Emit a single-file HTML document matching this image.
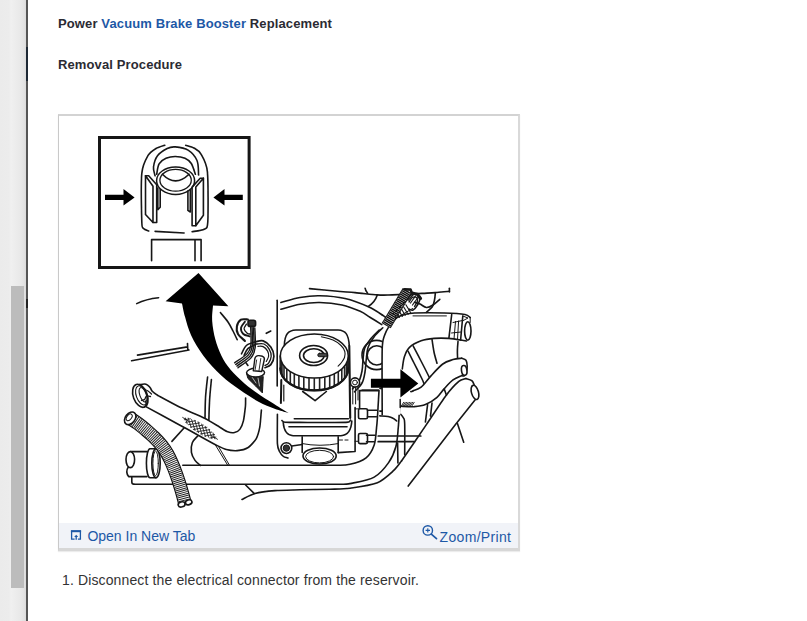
<!DOCTYPE html>
<html><head><meta charset="utf-8">
<style>
html,body{margin:0;padding:0;background:#fff;}
body{width:807px;height:621px;position:relative;overflow:hidden;font-family:"Liberation Sans",sans-serif;color:#2b2b33;}
#strip{position:absolute;left:0;top:0;width:26px;height:621px;background:linear-gradient(to right,#ebebeb 0,#ececec 9px,#f0f0f0 11px,#e9e9e9 20px,#e0e0e0 25px,#d8d8d8 26px);}
#thumb{position:absolute;left:11px;top:286px;width:13px;height:302px;background:#bcbcbc;}
#edge{position:absolute;left:26px;top:0;width:2px;height:621px;background:#555;}
.t{position:absolute;white-space:nowrap;font-weight:bold;font-size:13px;line-height:20px;letter-spacing:0.12px;}
.t a{color:#1d58a6;text-decoration:none;}
#frame{position:absolute;left:58px;top:114px;width:459px;height:432px;border-style:solid;border-color:#d3d3d3 #d9d9d9 #d7d7d7 #c9c9c9;border-width:2px 2px 3px 1px;box-shadow:0 1px 1px #ececec;background:#fff;}
#foot{position:absolute;left:0;top:407px;width:459px;height:25px;background:#f1f3f8;}
.f{position:absolute;white-space:nowrap;font-size:14px;line-height:20px;color:#1d58a6;}
#cap{position:absolute;left:62px;top:569.7px;font-size:14px;line-height:20px;white-space:nowrap;color:#333;letter-spacing:0.13px;}
</style></head><body>
<div id="strip"></div><div id="thumb"></div><div id="edge"></div><div style="position:absolute;left:26px;top:47px;width:2px;height:34px;background:#1d2834"></div><div style="position:absolute;left:26px;top:299px;width:2px;height:9px;background:#222"></div>
<div class="t" id="t1" style="left:58px;top:13.5px;">Power <a>Vacuum Brake Booster</a> Replacement</div>
<div class="t" id="t2" style="left:58px;top:54.8px;">Removal Procedure</div>
<div id="frame">
<svg id="art" width="459" height="407" viewBox="59 116 459 407" style="position:absolute;left:0;top:0"><defs><filter id="sb" x="59" y="116" width="459" height="407" filterUnits="userSpaceOnUse"><feGaussianBlur stdDeviation="0.38"/></filter></defs><g filter="url(#sb)" fill="none" stroke="#161616" stroke-width="1.6" stroke-linecap="round" stroke-linejoin="round">
<rect x="99.5" y="137.5" width="149.6" height="130" stroke-width="3" stroke-linejoin="miter"/>
<polygon points="105,194.7 123.5,194.7 123.5,189 134.6,197.4 123.5,205.6 123.5,200.1 105,200.1" fill="#000" stroke="none"/>
<polygon points="242.8,194.7 224.5,194.7 224.5,189 213.4,197.4 224.5,205.6 224.5,200.1 242.8,200.1" fill="#000" stroke="none"/>
<path d="M148.7,231.0 C148.0,230.7 144.4,229.7 143.5,228.5 C142.6,227.3 142.0,229.3 141.8,222.0 C141.6,214.7 141.0,182.2 141.8,173.4 C142.6,164.6 146.0,159.0 147.9,155.7 C149.8,152.4 153.7,149.9 156.0,148.5 C158.3,147.1 163.6,145.6 164.8,145.2" />
<path d="M185.7,145.2 C186.8,145.6 192.0,146.8 194.0,148.0 C196.0,149.2 199.2,150.9 201.0,154.1 C202.8,157.3 206.5,162.8 207.4,171.8 C208.3,180.8 208.2,214.0 207.8,221.7 C207.4,229.4 206.3,228.0 204.2,229.3 C202.1,230.6 193.7,231.4 192.1,231.7" />
<path d="M155.1,231.4 L184.1,233.0" />
<path d="M155.1,175.8 C154.8,174.3 153.1,170.3 153.5,167.0 C153.9,163.7 155.2,158.8 157.5,155.7 C159.8,152.6 164.2,150.0 167.2,148.5 C170.1,147.0 171.7,146.6 175.2,146.9 C178.7,147.2 184.5,147.8 188.1,150.1 C191.7,152.4 195.2,156.3 197.0,160.5 C198.8,164.7 198.3,172.6 198.6,175.0" />
<path d="M156.7,174.2 C157.1,172.5 157.5,166.5 159.1,163.8 C160.7,161.2 163.3,159.5 166.0,158.3 C168.7,157.1 172.0,156.5 175.2,156.5 C178.4,156.5 182.3,157.1 185.0,158.3 C187.7,159.5 189.6,160.8 191.3,163.5 C193.0,166.2 194.7,172.4 195.4,174.2" />
<ellipse cx="175.6" cy="180.7" rx="19" ry="13.7" stroke-width="1.5"/>
<ellipse cx="175.6" cy="180.3" rx="15.7" ry="10.9" stroke-width="1.3"/>
<path d="M162.4,174.2 Q175.5,187.4 189,174.2" />
<path d="M145.5,175.8 L145.5,214.5 L153.0,222.5 L153.0,186.3 Z" fill="#fff"/>
<path d="M145.5,175.8 L148.7,175.8 L156.7,184.7 L156.7,222.5 L153.0,222.5" />
<path d="M157.8,188.0 L157.8,209.6 L160.2,207.2 L160.2,189.5" />
<path d="M203.4,178.2 L203.4,215.3 L195.8,225.7 L195.8,187.1 Z" fill="#fff"/>
<path d="M203.4,178.2 L200.2,178.2 L192.1,187.1 L192.1,225.7 L195.8,225.7" />
<path d="M190.3,189.5 L190.3,212.0 L187.9,210.4 L187.9,191.1" />
<path d="M151.6,260.8 L151.6,239.6 L201.1,239.6 L201.1,260.8 M195,239.6 L195,260.8" />
<path d="M136.7,303.6 Q146,299 158.6,297.7" />
<path d="M131.6,360.8 L189.0,350.0 M137.5,355.1 L187.5,346.9 M187.5,343.5 L187.8,350.0" />
<path d="M220.4,312.6 C221.7,314.2 225.9,318.9 228.0,322.0 C230.1,325.1 231.5,328.1 233.0,331.0 C234.5,333.9 236.5,338.2 237.2,339.7" />
<path d="M277.2,300.3 L277.2,386.0" />
<path d="M280.9,302.5 C284.1,301.7 293.6,298.6 300.0,297.5 C306.4,296.4 312.1,295.6 319.6,295.8 C327.1,296.0 336.9,296.7 345.0,298.5 C353.1,300.3 362.0,303.9 368.4,306.8 C374.8,309.7 380.2,313.7 383.3,315.7 C386.4,317.7 386.4,318.4 387.0,319.0" />
<path d="M280.9,309.3 C284.1,308.4 293.6,305.3 300.0,304.2 C306.4,303.1 312.6,302.4 319.6,302.5 C326.6,302.6 335.2,303.5 342.0,305.0 C348.8,306.5 355.6,309.3 360.2,311.3 C364.8,313.3 366.3,315.0 369.9,317.2 C373.5,319.4 379.8,323.4 381.8,324.6" />
<path d="M309.5,288.6 C313.8,289.0 327.4,290.3 335.0,291.0 C342.6,291.7 347.9,292.0 355.0,292.6 C362.1,293.2 371.1,294.5 377.3,294.9 C383.5,295.3 384.8,295.1 392.2,294.9 C399.6,294.6 414.7,293.8 421.9,293.4 C429.1,293.0 430.7,293.0 435.3,292.6 C439.9,292.2 447.0,291.4 449.4,291.2" />
<path d="M449.4,288.2 L449.4,292.0" />
<path d="M365.1,288.2 Q365.5,291 367.6,293.2" />
<path d="M377.3,294.9 Q375,302 368.4,306.3" />
<path d="M284.3,346 C284.6,334 288,330.4 296,330 L338,330 C345.5,330.4 348.6,334 349.3,346" />
<path d="M349.3,346 L350.2,418" stroke-width="2.1"/>
<path d="M281.3,380.0 L280.9,403.0" stroke-width="2"/><path d="M283.8,385.0 L283.8,401.0" stroke-width="1.2"/>
<path d="M280.3,356.0 L280.3,368.4 A34,22 0 0 0 348.3,368.4 L348.3,356.0 Z" fill="#fff"/>
<path d="M280.7,360.2 L280.7,371.0 M282.0,363.6 L282.0,374.4 M284.0,366.8 L284.0,377.6 M286.8,369.7 L286.8,380.5 M290.3,372.4 L290.3,383.2 M294.3,374.6 L294.3,385.4 M298.9,376.4 L298.9,387.2 M303.8,377.7 L303.8,388.5 M309.0,378.5 L309.0,389.3 M314.3,378.8 L314.3,389.6 M319.6,378.5 L319.6,389.3 M324.8,377.7 L324.8,388.5 M329.7,376.4 L329.7,387.2 M334.3,374.6 L334.3,385.4 M338.3,372.4 L338.3,383.2 M341.8,369.7 L341.8,380.5 M344.6,366.8 L344.6,377.6 M346.6,363.6 L346.6,374.4 M347.9,360.2 L347.9,371.0" stroke-width="1.6" stroke="#222"/>
<path d="M280.3,368.4 A34,22 0 0 0 348.3,368.4" stroke-width="2.2"/>
<ellipse cx="314.3" cy="356" rx="34" ry="22" fill="#fff"/>
<path d="M321.4,336.8 C323.3,337.3 329.7,338.6 333.0,340.0 C336.3,341.4 339.0,343.6 341.0,345.5 C343.0,347.4 344.2,349.5 344.8,351.5 C345.4,353.5 345.1,355.7 344.5,357.5 C343.9,359.3 342.6,361.1 341.5,362.5 C340.4,363.9 338.7,365.6 338.1,366.2" stroke-width="1.1"/>
<ellipse cx="313.6" cy="355.5" rx="14" ry="10"/>
<ellipse cx="313.8" cy="355.6" rx="10.3" ry="6.9"/>
<rect x="317.8" y="353.3" width="9.4" height="3.4" rx="1.6" fill="#444" stroke-width="1"/>
<path d="M302.7,391.5 L315.1,400.6 L326.4,391.5" />
<path d="M294.3,418.8 L348.4,418.8" />
<path d="M281.9,420.5 C282.2,420.7 283.2,422.0 285.0,422.2 C286.8,422.4 293.9,422.4 300.0,422.4 C306.1,422.4 340.9,422.6 346.0,422.4 C351.1,422.2 350.1,420.2 350.6,420.0" />
<path d="M289.0,426.7 L347.0,426.7" />
<path d="M283.2,422.5 C283.8,430 286.5,435.2 293,435.7 L341,435.7 C348,435.2 351.3,430 351.8,421" />
<path d="M277.4,414.3 C277.4,417.7 277.2,439.3 277.4,443.6 C277.6,447.9 278.8,450.0 279.5,451.5 C280.2,453.0 282.5,455.7 283.5,456.5 C284.5,457.3 287.5,457.8 288.0,458.0" />
<circle cx="286.4" cy="448.1" r="5.4" fill="#fff"/><circle cx="286.4" cy="448.1" r="3.2" fill="#333" stroke-width="1"/>
<path d="M291.8,446.0 L302.2,444.5" />
<path d="M302.2,436.8 L302.2,452.5 M338.2,436.8 L338.2,452.6" />
<path d="M302.2,443.6 Q320,447 338.2,443.6" stroke-width="1"/>
<ellipse cx="319.6" cy="456" rx="16.6" ry="8"/>
<ellipse cx="319.6" cy="456.6" rx="14" ry="6.3" stroke-width="1"/>
<path d="M338.2,452.6 L355.1,451.5 L355.1,407.5" />
<path d="M338.5,440.0 L342.5,440.0 M345.0,440.0 L348.0,440.0" stroke-width="1"/>
<path d="M359.6,408.0 L359.6,390.6 L379.0,390.6 L377.6,415.0 C377.4,417.0 377.2,422.2 376.6,427.2 C376.0,432.2 375.9,439.8 374.2,444.9 C372.4,450.0 370.1,454.6 366.1,457.8 C362.1,461.0 355.2,463.1 350.0,464.3 C344.8,465.5 343.3,465.1 335.0,465.2 C326.7,465.3 305.8,465.2 300.0,465.2 L182.8,465.2" />
<rect x="358.5" y="408.7" width="9" height="10.1" rx="1.5" fill="#fff"/>
<rect x="358.5" y="433.5" width="9" height="10.1" rx="1.5" fill="#fff"/>
<path d="M367.5,410.3 L376.8,410.3 M367.5,416.7 L376.4,416.7" />
<path d="M379.8,411.1 C381.2,411.1 385.4,411.0 388.0,411.2 C390.6,411.4 393.9,412.0 395.1,412.2 M379.8,415.9 C381.2,416.0 385.8,416.1 388.0,416.5 C390.2,416.9 391.6,417.4 393.0,418.2 C394.4,418.9 396.1,420.5 396.7,421.0" />
<path d="M366.5,435.3 L374.8,435.3 M366.5,441.7 L374.2,441.7" />
<path d="M378.2,436.0 L420.8,436.0 M378.2,441.7 L414.4,441.7" stroke-width="1.7"/>
<path d="M355.1,408.9 L358.5,408.9 M355.1,441.3 L358.5,441.3" stroke-width="1"/>
<path d="M134,484.2 L340,484.2 C341.7,484.1 344.3,484.8 350.0,483.6 C355.7,482.4 367.8,480.6 374.2,477.1 C380.6,473.6 385.0,467.7 388.6,462.6 C392.2,457.5 394.3,452.4 395.9,446.5 C397.5,440.6 397.7,433.6 398.3,427.2 C398.9,420.8 399.3,412.6 399.6,408.0 C399.9,403.4 399.8,401.2 399.9,399.8" />
<path d="M242.0,499.5 C243.7,498.7 250.6,494.7 255.0,493.5 C259.4,492.3 269.0,491.1 275.0,490.6 C281.0,490.1 292.7,490.0 300.0,489.8 C307.3,489.6 323.3,489.4 330.0,489.2 C336.7,489.0 343.7,489.1 350.0,488.2 C356.3,487.3 371.6,485.0 377.4,482.7 C383.2,480.4 390.3,473.6 393.5,470.7 C396.7,467.8 400.4,462.3 401.5,461.0" />
<path d="M400.7,414.3 C401.2,414.9 402.8,416.4 403.5,418.0 C404.2,419.6 404.5,417.9 404.7,424.0 C404.9,430.1 404.7,449.5 404.7,454.6" />
<path d="M397.6,443.0 L397.9,463.0" />
<path d="M245.6,485.0 L254.1,493.4" />
<path d="M400.2,388.4 L400.1,400.0" />
<path d="M380.0,388.4 L400.2,388.4" />
<circle cx="376.6" cy="355" r="14.6"/>
<circle cx="376.8" cy="355.4" r="9.6"/>
<path d="M408.0,351.0 C409.0,353.0 411.7,358.4 414.0,363.0 C416.3,367.6 420.1,375.1 421.8,378.5 C423.5,381.9 423.6,382.8 424.0,383.6" />
<path d="M413.1,345.9 C414.4,348.4 418.3,355.8 421.0,361.0 C423.7,366.2 427.8,374.3 429.1,377.0" />
<path d="M432.0,339.3 C432.3,341.4 433.2,348.0 434.0,352.0 C434.8,356.0 436.5,361.4 437.0,363.3" />
<path d="M458.0,341.5 C457.9,342.9 457.5,347.1 457.4,350.0 C457.3,352.9 457.6,357.4 457.6,358.9" />
<path d="M382.2,414.7 C382.2,406.0 381.9,359.9 382.2,349.4 C382.5,338.9 383.5,338.9 384.4,335.8 C385.3,332.7 387.6,328.5 389.2,326.1 C390.8,323.7 394.4,319.5 396.6,317.9 C398.8,316.3 403.2,314.9 405.6,314.2 C408.0,313.5 409.4,313.2 414.5,313.0 C419.6,312.8 437.5,312.8 444.2,313.0 C450.9,313.2 461.5,313.9 465.0,314.5 C468.5,315.1 469.5,317.1 470.2,317.5 L470.2,338 L466.5,341 C463.5,340.6 454.0,338.8 448.6,338.4 C443.2,338.0 438.7,338.0 434.1,338.4 C429.5,338.8 425.2,339.3 421.1,340.8 C417.0,342.3 412.3,344.7 409.5,347.3 C406.7,349.9 405.6,353.1 404.4,356.7 C403.2,360.3 402.6,366.9 402.3,369.0 L400.2,414.7 Z" fill="#fff" stroke="none"/>
<path d="M382.2,414.7 C382.2,406.0 381.9,359.9 382.2,349.4 C382.5,338.9 383.5,338.9 384.4,335.8 C385.3,332.7 387.6,328.5 389.2,326.1 C390.8,323.7 394.4,319.5 396.6,317.9 C398.8,316.3 403.2,314.9 405.6,314.2 C408.0,313.5 409.4,313.2 414.5,313.0 C419.6,312.8 437.5,312.8 444.2,313.0 C450.9,313.2 461.5,313.9 465.0,314.5 C468.5,315.1 469.5,317.1 470.2,317.5" />
<path d="M466.5,341.0 C463.5,340.6 454.0,338.8 448.6,338.4 C443.2,338.0 438.7,338.0 434.1,338.4 C429.5,338.8 425.2,339.3 421.1,340.8 C417.0,342.3 412.3,344.7 409.5,347.3 C406.7,349.9 405.6,353.1 404.4,356.7 C403.2,360.3 402.6,366.9 402.3,369.0" />
<path d="M413.0,315.9 L446.4,315.9" stroke-width="1"/>
<path d="M470.2,317.5 L470.2,322.5" stroke-width="1"/>
<ellipse cx="467.8" cy="331" rx="3.2" ry="9.2" fill="#fff"/>
<path d="M451.7,314.5 L448.9,338.2 M462.8,316.0 L460.6,340.0" />
<path d="M453.0,322.5 L462.5,320.5 M451.5,333.0 L461.0,332.0 M455.5,321.5 L454.0,339.0 M458.6,321.0 L457.5,339.5" stroke-width="1"/>
<path d="M462.8,316.0 L468.0,318.0 L462.4,321.0" stroke-width="1"/>
<path d="M407.2,290.6 L386.2,325.6" stroke="#111" stroke-width="10.4" stroke-linecap="butt"/>
<path d="M407.2,290.6 L386.2,325.6" stroke="#fff" stroke-width="8.4" stroke-linecap="butt"/>
<path d="M407.2,290.6 L386.2,325.6" stroke="#111" stroke-width="8.6" stroke-dasharray="1.45 0.45" stroke-linecap="butt"/>
<path d="M404.5,289.3 L410.6,289.6 L411.6,292.6" stroke-width="2.6"/>
<path d="M412.6,308.5 L395.3,318.6 M406.0,301.0 L393.0,314.0" stroke-width="1"/>
<path d="M395.2,316.2 L396.5,318.5 M397.3,313.9 L399.4,317.4 M399.5,311.6 L402.3,316.4 M401.6,309.3 L405.2,315.3 M403.7,307.0 L408.1,314.3 M405.9,304.7 L411.0,313.2" stroke-width="1.1"/>
<path d="M407.0,300.0 C407.7,299.2 409.3,295.9 411.0,295.0 C412.7,294.1 415.5,294.0 417.0,294.5 C418.5,295.0 419.9,296.2 420.0,298.0 C420.1,299.8 418.7,303.0 417.5,305.0 C416.3,307.0 414.4,309.3 413.0,310.0 C411.6,310.7 409.7,309.2 409.0,309.0" stroke-width="1.5"/>
<path d="M409.0,302.0 C409.6,301.2 411.2,298.2 412.5,297.5 C413.8,296.8 415.7,296.9 416.5,297.5 C417.3,298.1 417.8,299.5 417.5,301.0 C417.2,302.5 415.0,305.6 414.5,306.5" stroke-width="1.3"/>
<path d="M410.5,303.0 L415.5,296.0 M412.5,305.0 L418.0,297.5 M408.5,300.0 L413.5,294.5" stroke-width="1.2"/>
<path d="M413.0,293.2 L417.5,294.2 M417.5,294.5 L420.5,298.5" stroke-width="3.2"/>
<path d="M414.5,302.3 C415.4,302.6 418.0,303.1 420.0,304.0 C422.0,304.9 424.2,307.3 426.4,307.5 C428.6,307.7 430.8,306.4 433.0,305.0 C435.2,303.6 438.7,300.2 439.8,299.3" />
<path d="M435.3,293.4 C435.2,294.5 435.0,297.8 434.5,300.0 C434.0,302.2 433.7,304.8 432.3,306.8 C430.9,308.9 427.4,311.4 426.4,312.3" />
<path d="M382.8,327.8 C381.4,329.2 376.7,333.3 374.3,336.5 C371.9,339.7 369.6,343.1 368.2,347.0 C366.8,350.9 366.7,355.8 366.2,360.0 C365.7,364.2 365.7,368.2 365.0,372.0 C364.3,375.8 363.8,379.7 362.0,383.0 C360.2,386.3 355.8,390.3 354.5,391.8" />
<path d="M379.2,330.0 C377.8,331.4 373.4,335.4 371.0,338.5 C368.6,341.6 365.9,344.9 364.6,348.5 C363.3,352.1 363.4,356.2 363.0,360.0 C362.6,363.8 362.7,367.5 362.0,371.0 C361.3,374.5 360.6,378.0 359.0,381.0 C357.4,384.0 353.6,387.7 352.5,389.0" />
<circle cx="355" cy="382.5" r="4.6" fill="#fff"/><circle cx="355" cy="382.5" r="2.4" stroke-width="1"/>
<path d="M352.8,387.0 L352.8,404.0 M355.6,387.4 L355.6,404.0 M358.0,388.0 L358.0,400.0" stroke-width="1"/>
<path d="M361.9,389.9 L378.8,389.9" stroke-width="1"/>
<path d="M470.0,379.0 L402.5,461.0 L408.2,486.1 L476.8,398.5 Z" fill="#fff" stroke="none"/>
<path d="M466.0,378.5 C465.3,378.8 460.8,379.7 458.8,381.4 C456.8,383.1 449.0,391.5 445.7,395.9 C442.4,400.2 430.6,418.4 426.2,424.9 C421.8,431.4 404.0,457.4 401.5,461.0" />
<path d="M475.4,399.5 L455.1,424.9 L408.2,486.1" />
<path d="M466.0,378.5 C467.0,378.9 470.4,379.5 471.8,380.7 C473.2,381.9 474.1,384.7 474.5,385.5" />
<ellipse cx="475" cy="392.4" rx="3.5" ry="7.3" transform="rotate(-16 475 392.4)" fill="#fff"/>
<path d="M457.4,423.4 L463.7,442.2" />
<path d="M427.6,404.6 L425.4,422.0 M432.0,403.1 L430.5,416.2" />
<path d="M413.1,390.8 C414.4,390.2 418.1,389.7 421.1,387.2 C424.1,384.7 427.6,379.5 431.2,375.6 C434.8,371.7 439.2,366.7 442.8,364.0 C446.4,361.3 449.9,360.6 453.0,359.6 C456.1,358.6 460.2,358.4 461.7,358.2 L466.7,362 L466.7,371 L461.7,375.6 C460.2,376.3 455.9,377.7 453.0,379.9 C450.1,382.1 447.0,385.7 444.3,388.6 C441.6,391.5 440.1,394.6 437.0,397.3 C433.9,400.0 429.3,403.0 425.4,404.6 C421.5,406.2 417.9,406.4 413.8,406.7 C409.7,407.0 403.0,406.3 400.8,406.2 L400.8,397.5 L413.1,390.8 Z" fill="#fff" stroke="none"/>
<path d="M413.1,390.8 C414.4,390.2 418.1,389.7 421.1,387.2 C424.1,384.7 427.6,379.5 431.2,375.6 C434.8,371.7 439.2,366.7 442.8,364.0 C446.4,361.3 449.9,360.6 453.0,359.6 C456.1,358.6 460.2,358.4 461.7,358.2" />
<path d="M400.8,406.2 C403.0,406.3 409.7,407.0 413.8,406.7 C417.9,406.4 421.5,406.2 425.4,404.6 C429.3,403.0 433.9,400.0 437.0,397.3 C440.1,394.6 441.6,391.5 444.3,388.6 C447.0,385.7 450.1,382.1 453.0,379.9 C455.9,377.7 460.2,376.3 461.7,375.6" />
<path d="M461.7,358.2 C462.4,358.5 465.1,358.9 466.0,360.2 C466.9,361.5 467.1,364.0 467.2,366.0 C467.3,368.0 466.9,370.4 466.4,372.0 C465.9,373.6 465.0,375.2 464.2,375.8 C463.4,376.4 462.1,375.6 461.7,375.6" />
<ellipse cx="464.2" cy="370.4" rx="2.7" ry="4.9" transform="rotate(-8 464.2 370.4)" fill="#fff"/>
<path d="M444.3,389.3 L446.4,395.1" />
<path d="M410.8,391.6 Q412,391.6 413.1,390.8" />
<path d="M401.5,405.8 L403.7,402.3 M403.0,405.8 L405.2,402.3 M404.5,405.8 L406.7,402.3 M406.0,405.8 L408.2,402.3 M407.5,405.8 L409.7,402.3 M409.0,405.8 L411.2,402.3 M410.5,405.8 L412.7,402.3 M412.0,405.8 L414.2,402.3" stroke-width="0.9"/>
<path d="M400.2,399.5 L400.2,407.5" stroke-width="1.5"/>
<polygon points="370.9,378.7 400.4,378.7 400.4,369.2 418.3,383.4 400.4,397.4 400.4,387.8 370.9,387.8" fill="#000" stroke="none"/>
<path d="M207.6,377.0 C207.2,380.5 205.9,390.9 205.5,398.0 C205.1,405.1 205.1,415.9 205.0,419.5 M211.4,379.6 C211.1,383.0 210.0,392.9 209.6,400.0 C209.2,407.1 208.9,418.3 208.8,422.0" />
<path d="M184.0,428.0 L171.9,441.4" />
<path d="M197.7,436.0 C196.8,437.1 193.4,440.0 192.3,442.7 C191.2,445.4 191.0,449.4 191.4,452.3 C191.8,455.2 193.5,458.2 195.0,460.4 C196.5,462.6 199.5,464.6 200.4,465.4" />
<path d="M215.4,445.0 L227.5,464.9 M217.0,444.0 L229.3,464.9" stroke-width="1"/>
<path d="M130.3,451.6 L147,451.6 M128.2,467.2 Q125.2,472 128.6,476.6 L147,476.6 M131.8,476.8 L131.8,482 Q131.8,484.2 134,484.2" />
<ellipse cx="130.3" cy="459.6" rx="4.3" ry="8" fill="#fff"/>
<path d="M150,448.8 A3.6,14.5 0 0 0 150,477.8 L156,477.8 L156,448.8 Z" fill="#fff"/>
<ellipse cx="156" cy="463.3" rx="4.2" ry="14.5" fill="#fff"/>
<ellipse cx="155.6" cy="463.3" rx="2.7" ry="12.3" stroke-width="1"/>
<path d="M157.7,395.4 C160.3,396.8 174.5,404.6 180.0,407.3 C185.5,410.0 199.9,415.9 204.5,418.2 C209.1,420.5 216.8,425.4 219.5,427.0 C222.2,428.6 225.9,431.2 227.7,431.8 C229.4,432.4 233.1,432.8 234.5,432.5 C235.9,432.2 239.0,430.5 240.0,429.1 C241.0,427.7 242.8,423.5 243.4,420.9 C244.0,418.3 245.1,409.3 245.4,406.6 C245.7,403.9 245.6,399.0 245.6,398.0 L261.4,410 C261.3,410.6 261.4,410.4 261.1,413.4 C260.8,416.3 260.5,423.5 259.7,427.7 C258.9,431.9 258.2,435.3 256.3,438.6 C254.4,441.9 251.4,445.5 248.2,447.5 C245.0,449.5 241.0,450.3 237.3,450.6 C233.7,450.9 229.7,450.4 226.3,449.5 C222.9,448.6 221.3,447.7 216.8,445.4 C212.3,443.1 205.2,439.1 199.1,435.7 C193.0,432.3 188.9,430.1 180.0,425.2 C171.1,420.3 151.2,409.5 145.4,406.4 Z" fill="#fff" stroke="none"/>
<path d="M157.7,395.4 C160.3,396.8 174.5,404.6 180.0,407.3 C185.5,410.0 199.9,415.9 204.5,418.2 C209.1,420.5 216.8,425.4 219.5,427.0 C222.2,428.6 225.9,431.2 227.7,431.8 C229.4,432.4 233.1,432.8 234.5,432.5 C235.9,432.2 239.0,430.5 240.0,429.1 C241.0,427.7 242.8,423.5 243.4,420.9 C244.0,418.3 245.1,409.3 245.4,406.6 C245.7,403.9 245.6,399.0 245.6,398.0" />
<path d="M145.4,406.4 C149.4,408.6 173.7,421.8 180.0,425.2 C186.3,428.6 194.8,433.3 199.1,435.7 C203.4,438.1 213.6,443.8 216.8,445.4 C220.0,447.0 223.9,448.9 226.3,449.5 C228.7,450.1 234.7,450.8 237.3,450.6 C239.9,450.4 246.0,448.9 248.2,447.5 C250.4,446.1 255.0,440.9 256.3,438.6 C257.6,436.3 259.1,430.6 259.7,427.7 C260.3,424.8 260.9,415.5 261.1,413.4 C261.3,411.3 261.4,410.4 261.4,410.0" />
<path d="M185.4,418.0 L187.2,423.9 M188.3,418.1 L191.2,427.6 M191.6,419.6 L195.0,430.5 M194.8,420.3 L198.5,432.7 M198.1,421.8 L202.1,435.0 M201.7,424.1 L205.4,436.5 M205.2,426.3 L208.6,437.2 M209.0,429.2 L211.9,438.7 M213.0,432.9 L214.8,438.8 M190.4,418.8 L184.3,419.7 M195.4,420.8 L185.7,422.3 M199.7,422.9 L188.5,424.7 M203.3,425.1 L190.5,427.1 M206.9,427.3 L193.3,429.5 M209.7,429.7 L196.9,431.7 M211.7,432.1 L200.5,433.9 M214.5,434.5 L204.8,436.0 M215.9,437.1 L209.8,438.0" stroke-width="0.9" stroke="#222"/>
<path d="M182.7,417.5 L188.7,421.2 M217.5,439.3 L211.5,435.6" stroke-width="0.9"/>
<g transform="rotate(-20 140.3 395.8)"><ellipse cx="140.3" cy="395.8" rx="7" ry="12" fill="#fff" stroke-width="1.6"/><ellipse cx="141.6" cy="395.8" rx="5.2" ry="10" stroke-width="1.1"/><ellipse cx="143.2" cy="395.8" rx="3.2" ry="7.6" stroke-width="1.1"/></g>
<path d="M139.5,384.6 C140.6,384.5 144.2,383.7 146.0,384.2 C147.8,384.7 148.9,386.3 150.0,387.5 C151.1,388.7 151.2,390.2 152.5,391.5 C153.8,392.8 156.8,394.8 157.7,395.4" stroke-width="1.6"/>
<path d="M144.0,389.0 C144.7,389.3 146.8,390.2 148.0,391.0 C149.2,391.8 150.9,393.5 151.5,394.0 M141.5,400.5 C142.0,400.3 143.7,400.2 144.5,399.5 C145.3,398.8 145.5,396.5 146.5,396.0 C147.5,395.5 149.8,396.4 150.5,396.5" stroke-width="1.3"/>
<path d="M144.0,407.4 C144.4,406.9 146.1,405.6 146.3,404.5 C146.5,403.4 145.6,401.6 145.4,401.0" stroke-width="1.3"/>
<path d="M130.3,418.4 C131.6,419.3 135.5,421.7 138.0,423.6 C140.5,425.5 142.8,427.3 145.5,429.6 C148.2,431.9 151.3,434.5 154.0,437.2 C156.7,439.9 159.5,442.8 161.7,445.6 C163.9,448.4 165.7,451.0 167.4,454.0 C169.1,457.0 170.6,460.1 172.0,463.4 C173.4,466.6 174.8,470.2 176.0,473.5 C177.2,476.8 178.3,480.1 179.3,483.3 C180.3,486.6 181.3,489.8 182.2,493.0 C183.1,496.2 184.3,500.8 184.7,502.3" stroke="#111" stroke-width="13.8" stroke-linecap="butt"/>
<path d="M130.3,418.4 C131.6,419.3 135.5,421.7 138.0,423.6 C140.5,425.5 142.8,427.3 145.5,429.6 C148.2,431.9 151.3,434.5 154.0,437.2 C156.7,439.9 159.5,442.8 161.7,445.6 C163.9,448.4 165.7,451.0 167.4,454.0 C169.1,457.0 170.6,460.1 172.0,463.4 C173.4,466.6 174.8,470.2 176.0,473.5 C177.2,476.8 178.3,480.1 179.3,483.3 C180.3,486.6 181.3,489.8 182.2,493.0 C183.1,496.2 184.3,500.8 184.7,502.3" stroke="#fff" stroke-width="11.4" stroke-linecap="butt"/>
<path d="M130.3,418.4 C131.6,419.3 135.5,421.7 138.0,423.6 C140.5,425.5 142.8,427.3 145.5,429.6 C148.2,431.9 151.3,434.5 154.0,437.2 C156.7,439.9 159.5,442.8 161.7,445.6 C163.9,448.4 165.7,451.0 167.4,454.0 C169.1,457.0 170.6,460.1 172.0,463.4 C173.4,466.6 174.8,470.2 176.0,473.5 C177.2,476.8 178.3,480.1 179.3,483.3 C180.3,486.6 181.3,489.8 182.2,493.0 C183.1,496.2 184.3,500.8 184.7,502.3" stroke="#222" stroke-width="11.6" stroke-dasharray="1.0 0.9" stroke-linecap="butt"/>
<ellipse cx="130.2" cy="418.3" rx="4.8" ry="7" transform="rotate(38 130.2 418.3)" fill="#fff"/>
<ellipse cx="129.2" cy="417.3" rx="2.3" ry="3.8" transform="rotate(38 129.2 417.3)" stroke-width="1"/>
<ellipse cx="181.6" cy="504.4" rx="3.5" ry="2.5" transform="rotate(-16 181.6 504.4)" fill="#fff"/>
<ellipse cx="188.7" cy="502.3" rx="3.3" ry="2.4" transform="rotate(-16 188.7 502.3)" fill="#fff"/>
<path d="M247.9,319.5 C246.8,319.5 242.8,318.6 241.0,319.7 C239.2,320.8 237.4,324.0 236.9,326.4 C236.4,328.8 236.7,331.6 238.0,334.0 C239.3,336.4 243.8,339.8 244.9,340.9" stroke-width="2.1"/>
<path d="M244.9,321.8 C244.2,322.8 241.3,325.9 241.0,327.9 C240.7,329.9 241.9,332.6 243.3,334.0 C244.7,335.4 248.5,335.9 249.5,336.3" stroke-width="1.8"/>
<path d="M246.4,324.1 C246.0,324.9 244.0,327.2 244.1,328.7 C244.2,330.2 246.2,332.4 247.2,333.3 C248.2,334.2 249.7,333.9 250.2,334.0" stroke-width="1.3"/>
<rect x="248" y="320.2" width="7.6" height="6.2" rx="2" fill="#333"/>
<path d="M250.7,327.2 C250.7,330.2 251.5,340.6 250.9,345.0 C250.3,349.4 249.9,350.6 247.2,353.6 C244.5,356.6 236.7,361.3 234.6,362.8" stroke-width="1.4"/>
<path d="M252.1,327.4 C252.1,330.5 252.9,341.2 252.3,345.8 C251.7,350.4 251.3,351.8 248.5,354.9 C245.8,358.0 237.9,362.9 235.7,364.4" stroke-width="1.4"/>
<path d="M253.4,327.7 C253.5,330.8 254.4,341.9 253.8,346.7 C253.2,351.4 252.7,353.0 249.9,356.3 C247.0,359.5 239.0,364.4 236.9,366.1" stroke-width="1.4"/>
<path d="M254.8,327.9 C254.9,331.2 255.8,342.6 255.2,347.5 C254.6,352.4 254.1,354.2 251.2,357.6 C248.3,361.0 240.2,366.0 238.0,367.7" stroke-width="1.4"/>
<path d="M255.6,341.7 C256.9,341.6 260.7,340.0 263.2,340.9 C265.7,341.8 269.0,344.4 270.8,347.0 C272.6,349.6 273.9,353.3 273.9,356.2 C273.9,359.1 272.3,362.7 270.8,364.6 C269.3,366.5 266.0,367.2 265.0,367.7" stroke-width="1.7"/>
<path d="M257.1,344.0 C258.2,344.0 262.0,343.1 264.0,344.0 C266.0,344.9 268.1,347.3 269.3,349.3 C270.5,351.3 271.3,353.9 271.2,356.2 C271.1,358.5 269.6,361.6 268.6,363.1 C267.6,364.6 265.6,365.0 265.0,365.4" stroke-width="1.3"/>
<path d="M257.9,346.3 C258.8,346.4 261.6,345.8 263.2,346.6 C264.8,347.4 266.6,349.3 267.5,350.9 C268.4,352.5 268.8,354.4 268.6,356.2 C268.4,358.0 266.7,360.6 266.3,361.5" stroke-width="1.2"/>
<path d="M255.6,341.7 C254.1,342.3 248.8,343.5 246.4,345.5 C244.1,347.5 242.3,352.5 241.5,353.9 M256.3,344.0 C254.9,344.8 249.9,346.7 247.9,348.6 C245.9,350.5 244.7,354.3 244.1,355.4" />
<path d="M246.4,373 L247.9,378.4 L255.6,386 L262.4,392.9 L263.2,376.8 Z" fill="#222" stroke-width="1"/>
<path d="M252.0,377.0 L256.0,383.0 M258.0,378.0 L259.5,386.0" stroke="#ddd" stroke-width="0.8"/>
<ellipse cx="255.6" cy="372.6" rx="9" ry="4.3" fill="#fff" stroke-width="1.4"/>
<path d="M253.3,370.7 L254.8,359 Q255.5,355.3 259,355.6 L262.5,356.3 Q265,357.3 264.2,360 L261.7,371.5 Z" fill="#fff" stroke-width="1.4"/>
<path d="M256.6,360.0 L255.2,369.5 M260.8,358.5 L259.0,370.5" stroke-width="0.9"/>
<path d="M245.6,362.3 L247.9,365.4 M266.3,333.3 L270.8,331.0" />
<path d="M198.5,273 L228.4,306.3 L213,305.6 C212.9,308.2 211.8,315.6 212.2,321.2 C212.6,326.8 213.8,333.6 215.3,339.3 C216.8,345.0 218.8,350.4 221.3,355.4 C223.8,360.4 226.5,364.8 230.4,369.5 C234.3,374.2 239.5,379.1 244.5,383.5 C249.5,387.9 255.2,391.9 260.6,395.6 C266.0,399.3 272.0,402.8 276.7,405.7 C281.4,408.6 286.6,411.8 288.6,413.0 C286.3,412.3 279.6,410.6 274.6,408.7 C269.6,406.8 264.4,404.9 258.5,401.7 C252.6,398.5 245.6,394.0 239.4,389.6 C233.2,385.2 227.3,381.2 221.3,375.5 C215.3,369.8 208.2,362.1 203.2,355.4 C198.2,348.7 194.1,341.6 191.1,335.2 C188.1,328.8 186.6,322.4 185.1,317.1 C183.6,311.8 182.5,305.7 182.0,303.4 L165.6,301.3 Z" fill="#000" stroke="none"/>
</g></svg>
<div id="foot"></div>
<svg width="459" height="26" viewBox="59 523 459 26" style="position:absolute;left:0;top:407px"><g fill="none" stroke="#1d58a6" stroke-linecap="butt">
<rect x="70.9" y="530.1" width="10.2" height="2.1" fill="#1d58a6" stroke="none"/>
<path d="M71.6,531 V539.2 H74.6 M77.9,539.2 H80.4 V531" stroke-width="1.3"/>
<path d="M76.2,539.8 V536.4" stroke-width="1.3"/><path d="M74.2,537.1 L76.2,534.7 L78.2,537.1 Z" fill="#1d58a6" stroke="none"/>
<circle cx="427.8" cy="530.4" r="4.7" stroke-width="1.4"/>
<path d="M425.6,530.4 H430 M427.8,528.3 V532.5" stroke-width="1.1"/>
<path d="M431.3,534.1 L436.5,538.6" stroke-width="1.7" stroke-linecap="round"/>
</g></svg>
<div class="f" id="f1" style="left:28.4px;top:410px;">Open In New Tab</div>
<div class="f" id="f2" style="left:380.6px;top:410.5px;letter-spacing:0.32px;">Zoom/Print</div>
</div>
<div id="cap">1. Disconnect the electrical connector from the reservoir.</div>
</body></html>
